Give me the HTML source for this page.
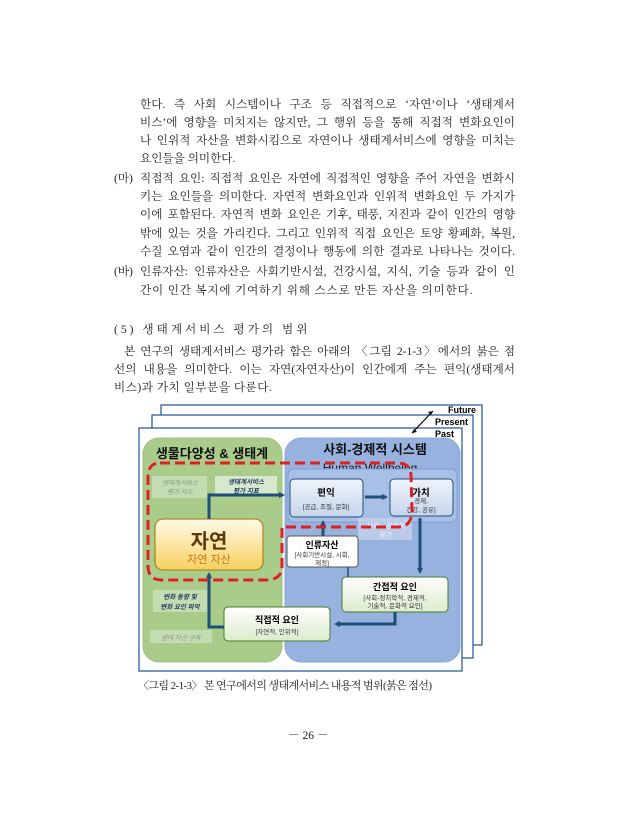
<!DOCTYPE html>
<html><head><meta charset="utf-8">
<style>
body{margin:0;background:#fff;width:618px;height:840px;position:relative;overflow:hidden;font-family:"Liberation Serif","Noto Serif CJK SC",serif;color:#222}
.l{position:absolute;font-size:11.6px;line-height:14px;white-space:nowrap;text-align:justify;text-align-last:justify}
.n{text-align-last:auto}
svg{position:absolute;left:0;top:0}
svg text{font-family:"Liberation Sans","Noto Sans CJK KR",sans-serif}
</style></head><body>
<div class="l" style="left:140px;top:98px;width:375px">한다. 즉 사회 시스템이나 구조 등 직접적으로 ‘자연’이나 ‘생태계서</div>
<div class="l" style="left:140px;top:116px;width:375px">비스’에 영향을 미치지는 않지만, 그 행위 등을 통해 직접적 변화요인이</div>
<div class="l" style="left:140px;top:134px;width:375px">나 인위적 자산을 변화시킴으로 자연이나 생태계서비스에 영향을 미치는</div>
<div class="l n" style="left:140px;top:152px">요인들을 의미한다.</div>
<div class="l n" style="left:114px;top:172px">(마)</div>
<div class="l" style="left:140px;top:172px;width:375px">직접적 요인: 직접적 요인은 자연에 직접적인 영향을 주어 자연을 변화시</div>
<div class="l" style="left:140px;top:190px;width:375px">키는 요인들을 의미한다. 자연적 변화요인과 인위적 변화요인 두 가지가</div>
<div class="l" style="left:140px;top:208px;width:375px">이에 포함된다. 자연적 변화 요인은 기후, 태풍, 지진과 같이 인간의 영향</div>
<div class="l" style="left:140px;top:227px;width:375px">밖에 있는 것을 가리킨다. 그리고 인위적 직접 요인은 토양 황폐화, 복원,</div>
<div class="l" style="left:140px;top:245px;width:375px">수질 오염과 같이 인간의 결정이나 행동에 의한 결과로 나타나는 것이다.</div>
<div class="l n" style="left:114px;top:265px">(바)</div>
<div class="l" style="left:140px;top:265px;width:375px">인류자산: 인류자산은 사회기반시설, 건강시설, 지식, 기술 등과 같이 인</div>
<div class="l n" style="left:140px;top:284px;letter-spacing:0.8px">간이 인간 복지에 기여하기 위해 스스로 만든 자산을 의미한다.</div>
<div class="l n" style="left:114px;top:323px;letter-spacing:3px">(5) 생태계서비스 평가의 범위</div>
<div class="l" style="left:114px;top:345px;width:401px">&nbsp;&nbsp;본 연구의 생태계서비스 평가라 함은 아래의 〈그림 2-1-3〉에서의 붉은 점</div>
<div class="l" style="left:114px;top:363px;width:401px">선의 내용을 의미한다. 이는 자연(자연자산)이 인간에게 주는 편익(생태계서</div>
<div class="l n" style="left:114px;top:381px;letter-spacing:0.5px">비스)과 가치 일부분을 다룬다.</div>
<div class="l n" style="left:138px;top:679px;font-size:11px;letter-spacing:-0.6px">〈그림 2-1-3〉 본 연구에서의 생태계서비스 내용적 범위(붉은 점선)</div>
<div class="l n" style="left:288px;top:729px">－ 26 －</div>

<svg width="618" height="840" viewBox="0 0 618 840">
<defs>
<linearGradient id="yg" x1="0" y1="0" x2="0" y2="1"><stop offset="0" stop-color="#fffbe8"/><stop offset="1" stop-color="#f8d060"/></linearGradient>
<linearGradient id="gg" x1="0" y1="0" x2="0" y2="1"><stop offset="0" stop-color="#ffffff"/><stop offset="1" stop-color="#dcebcc"/></linearGradient>
<linearGradient id="bg" x1="0" y1="0" x2="0" y2="1"><stop offset="0" stop-color="#eef3fa"/><stop offset="1" stop-color="#c6d6ec"/></linearGradient>
<marker id="ah" markerWidth="6" markerHeight="6" refX="4" refY="3" orient="auto" markerUnits="userSpaceOnUse"><path d="M0,0 L6,3 L0,6z" fill="#1f4e79"/></marker>
</defs>
<rect x="161" y="405" width="321" height="240" fill="#fff" stroke="#2f5f9a" stroke-width="1.3"/>
<rect x="152" y="415" width="321" height="243" fill="#fff" stroke="#2f5f9a" stroke-width="1.3"/>
<rect x="139" y="428" width="323" height="243" fill="#fff" stroke="#2f5f9a" stroke-width="1.3"/>
<text x="448" y="413" font-size="9" font-weight="bold">Future</text>
<text x="435" y="425" font-size="9" font-weight="bold">Present</text>
<text x="435" y="437" font-size="9" font-weight="bold">Past</text>
<line x1="412" y1="433" x2="433" y2="411" stroke="#000" stroke-width="1.2"/>
<path d="M433,411 l-5,1 l3,3z M412,433 l5,-1 l-3,-3z" fill="#000"/>
<rect x="143" y="438" width="139" height="224" rx="16" fill="#a9cc8a" stroke="#9cc27c"/>
<rect x="285" y="438" width="175" height="224" rx="16" fill="#97b2de" stroke="#8aa6d6"/>
<text x="212" y="458" font-size="13" font-weight="bold" text-anchor="middle" fill="#111">생물다양성 &amp; 생태계</text>
<text x="375" y="454" font-size="13" font-weight="bold" text-anchor="middle" fill="#111">사회-경제적 시스템</text>
<text x="370" y="472" font-size="12" text-anchor="middle" fill="#111">Human Wellbeing</text>
<rect x="288" y="469" width="169" height="53" rx="6" fill="#a9c0e6" stroke="#7f9fd2"/>
<rect x="290" y="479" width="73" height="38" rx="4" fill="url(#bg)" stroke="#1f4e79"/>
<text x="326" y="496" font-size="9.5" font-weight="bold" text-anchor="middle">편익</text>
<text x="326" y="509" font-size="6.5" text-anchor="middle" fill="#333">[공급, 조절, 문화]</text>
<rect x="390" y="479" width="63" height="37" rx="4" fill="url(#bg)" stroke="#1f4e79"/>
<text x="421" y="496" font-size="9.5" font-weight="bold" text-anchor="middle">가치</text>
<text x="421" y="503" font-size="6.5" text-anchor="middle" fill="#333">경제,</text>
<text x="421" y="512" font-size="6.5" text-anchor="middle" fill="#333">건강, 공유]</text>
<rect x="358" y="518" width="54" height="22" fill="#c3d2ec" opacity="0.8"/>
<text x="385" y="528" font-size="7" font-style="italic" text-anchor="middle" fill="#eef">사회 · 경제적</text>
<text x="385" y="537" font-size="7" font-style="italic" text-anchor="middle" fill="#eef">평가</text>
<rect x="287" y="536" width="71" height="31" rx="3" fill="#fff" stroke="#555"/>
<text x="322" y="548" font-size="9" font-weight="bold" text-anchor="middle">인류자산</text>
<text x="322" y="557" font-size="6.5" text-anchor="middle" fill="#333">[사회기반시설, 시회,</text>
<text x="322" y="565" font-size="6.5" text-anchor="middle" fill="#333">제정]</text>
<rect x="342" y="577" width="106" height="35" rx="4" fill="url(#gg)" stroke="#4a7a2a"/>
<text x="395" y="590" font-size="9" font-weight="bold" text-anchor="middle">간접적 요인</text>
<text x="395" y="600" font-size="6.5" text-anchor="middle" fill="#333">[사회-정치학적, 경제적,</text>
<text x="395" y="608" font-size="6.5" text-anchor="middle" fill="#333">기술적, 문화적 요인]</text>
<rect x="224" y="607" width="106" height="34" rx="4" fill="url(#gg)" stroke="#4a7a2a"/>
<text x="277" y="623" font-size="9" font-weight="bold" text-anchor="middle">직접적 요인</text>
<text x="277" y="634" font-size="6.5" text-anchor="middle" fill="#333">[자연적, 인위적]</text>
<rect x="155" y="519" width="108" height="51" rx="8" fill="url(#yg)" stroke="#b08820" stroke-width="1.3"/>
<text x="209" y="548" font-size="20" font-weight="bold" text-anchor="middle" fill="#5a3a10">자연</text>
<text x="209" y="563" font-size="11" text-anchor="middle" fill="#c07a10">자연 자산</text>
<rect x="152" y="476" width="55" height="22" fill="#c4dcb2"/>
<text x="180" y="485" font-size="6.5" font-style="italic" text-anchor="middle" fill="#8a9a80">생태계서비스</text>
<text x="180" y="494" font-size="6.5" font-style="italic" text-anchor="middle" fill="#8a9a80">평가 지도</text>
<rect x="215" y="476" width="62" height="19" fill="#d8e8cc"/>
<text x="246" y="484" font-size="6.5" font-style="italic" font-weight="bold" text-anchor="middle" fill="#1f3b5e">생태계서비스</text>
<text x="246" y="493" font-size="6.5" font-style="italic" font-weight="bold" text-anchor="middle" fill="#1f3b5e">평가 지표</text>
<rect x="153" y="590" width="54" height="22" fill="#c4dcb2"/>
<text x="180" y="599" font-size="6.5" font-style="italic" font-weight="bold" text-anchor="middle" fill="#1f3b5e">변화 동향 및</text>
<text x="180" y="609" font-size="6.5" font-style="italic" font-weight="bold" text-anchor="middle" fill="#1f3b5e">변화 요인 파악</text>
<rect x="150" y="630" width="62" height="13" fill="#c4dcb2"/>
<text x="181" y="640" font-size="6.5" font-style="italic" text-anchor="middle" fill="#8a9a80">생태 자산 구축</text>
<g fill="none" stroke="#1f4e79" stroke-width="3">
<path d="M209,519 V495 H283" marker-end="url(#ah)"/>
<path d="M365,497 H386" marker-end="url(#ah)"/>
<path d="M323,536 V522" marker-end="url(#ah)"/>
<path d="M420,518 V572" marker-end="url(#ah)"/>
<path d="M395,612 V624 H336" marker-end="url(#ah)"/>
<path d="M224,627 H209 V574" marker-end="url(#ah)"/>
<path d="M348,567 V577" stroke-width="1.5"/>
</g>
<path d="M160,463 H398 Q410,463 411,475 L412,510 Q412,527 398,527 H282 V566 Q282,579 268,580 H162 Q148,580 148,566 V477 Q148,463 160,463Z" fill="none" stroke="#e02020" stroke-width="3" stroke-dasharray="10,5"/>
</svg>
</body></html>
